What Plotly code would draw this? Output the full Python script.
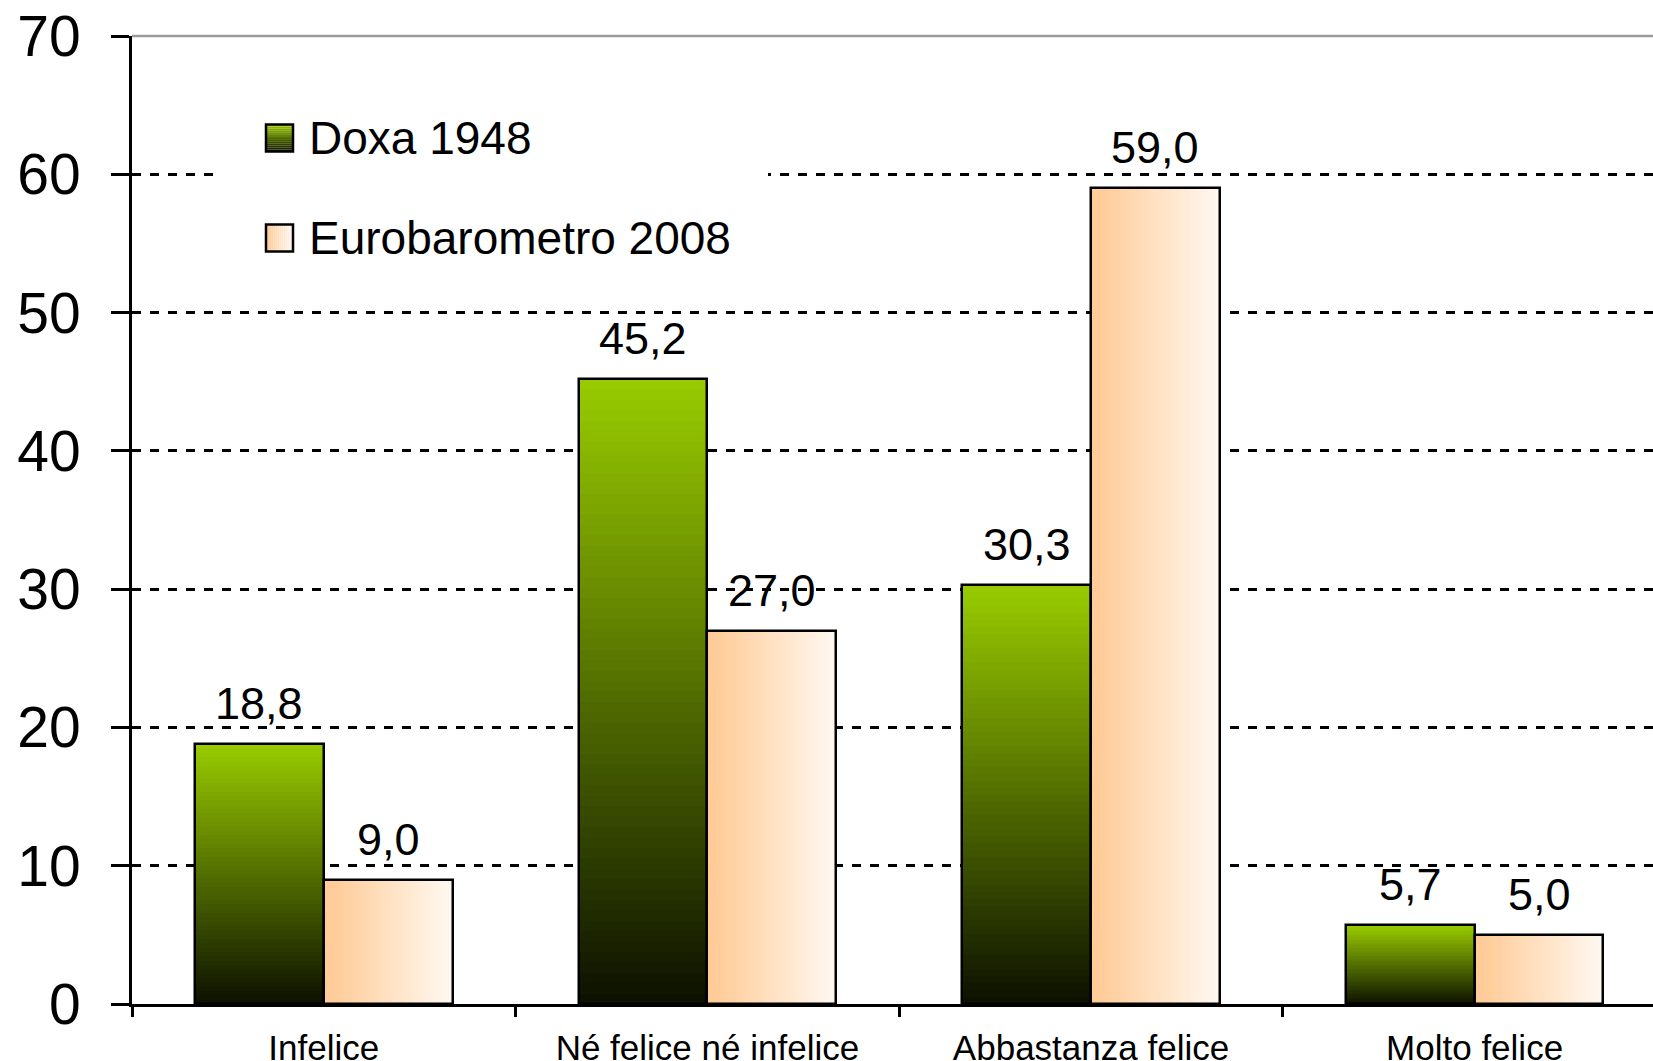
import plotly.graph_objects as go

# ---------------- data ----------------
categories = ["Infelice", "Né felice né infelice", "Abbastanza felice", "Molto felice"]
doxa_1948 = [18.8, 45.2, 30.3, 5.7]
euro_2008 = [9.0, 27.0, 59.0, 5.0]
series_names = ["Doxa 1948", "Eurobarometro 2008"]
y_ticks = [0, 10, 20, 30, 40, 50, 60, 70]

# ---------------- style ----------------
W, H = 1653, 1061
ML, MR, MT, MB = 132, 0, 36, 57
BAR_W = 0.336
GREEN_TOP = (153, 204, 0)
GREEN_BOT = (12, 16, 0)
PEACH_L = (255, 204, 153)
PEACH_R = (255, 249, 242)
N_V = 60   # vertical gradient steps
N_H = 36   # horizontal gradient steps
FONT = "Liberation Sans, Arial, sans-serif"
NARROW = "Liberation Sans Narrow, Arial Narrow, Liberation Sans, Arial, sans-serif"


def mix(a, b, t):
    t = max(0.0, min(1.0, t))
    return "rgb(%d,%d,%d)" % tuple(round(a[i] + (b[i] - a[i]) * t) for i in range(3))


def green_at(t):  # t=0 bottom, 1 top
    return mix(GREEN_BOT, GREEN_TOP, t)


def peach_at(t):  # t=0 left, 1 right
    return mix(PEACH_L, PEACH_R, (t - 0.08) / 0.92)


x_idx = list(range(len(categories)))
fig = go.Figure()

# green bars: vertical gradient by stacking thin segments
for k in range(N_V):
    fig.add_trace(go.Bar(
        x=x_idx, y=[v / N_V for v in doxa_1948], base=[v * k / N_V for v in doxa_1948],
        width=BAR_W, offset=-BAR_W,
        marker=dict(color=green_at((k + 0.5) / N_V), line=dict(width=0)),
        showlegend=False, hoverinfo="skip"))

# peach bars: horizontal gradient by side-by-side thin strips
for k in range(N_H):
    fig.add_trace(go.Bar(
        x=x_idx, y=euro_2008,
        width=BAR_W / N_H, offset=BAR_W * k / N_H,
        marker=dict(color=peach_at((k + 0.5) / N_H), line=dict(width=0)),
        showlegend=False, hoverinfo="skip"))

# outlines
for vals, off, name in [(doxa_1948, -BAR_W, series_names[0]), (euro_2008, 0.0, series_names[1])]:
    fig.add_trace(go.Bar(
        x=x_idx, y=vals, width=BAR_W, offset=off, name=name,
        marker=dict(color="rgba(0,0,0,0)", line=dict(color="black", width=2.5)),
        showlegend=False, hoverinfo="skip"))

# data labels
annotations = []
for vals, off in [(doxa_1948, -BAR_W), (euro_2008, 0.0)]:
    for i, v in enumerate(vals):
        annotations.append(dict(
            x=i + off + BAR_W / 2, y=v, xref="x", yref="y",
            text=("%.1f" % v).replace(".", ","), showarrow=False,
            yanchor="bottom", xanchor="center", yshift=13,
            font=dict(family=FONT, size=45, color="black")))

# ---------------- manual legend ----------------
PW = W - ML - MR
PH = H - MT - MB


def px(x):
    return (x - ML) / PW


def py(y):
    return (H - MB - y) / PH


shapes = []
# top border line of plot area
shapes.append(dict(type="line", xref="paper", yref="paper", x0=0, x1=1, y0=1, y1=1,
                   line=dict(color="#9a9a9a", width=2.5), layer="between"))
# white legend background (covers gridlines)
shapes.append(dict(type="rect", xref="paper", yref="paper",
                   x0=px(214), x1=px(768), y0=py(292), y1=py(88),
                   fillcolor="white", line=dict(width=0), layer="above"))
SQ = 27
rows = [(138, "g"), (238, "p")]
for (cy, kind), name in zip(rows, series_names):
    x0, x1 = 266, 266 + SQ
    y0, y1 = cy - SQ / 2, cy + SQ / 2
    n = 14
    for k in range(n):
        if kind == "g":
            ya = y1 - (k + 1) * SQ / n
            yb = y1 - k * SQ / n
            col = green_at((k + 0.5) / n)
            shapes.append(dict(type="rect", xref="paper", yref="paper",
                               x0=px(x0), x1=px(x1), y0=py(yb), y1=py(ya),
                               fillcolor=col, line=dict(width=0), layer="above"))
        else:
            xa = x0 + k * SQ / n
            xb = x0 + (k + 1) * SQ / n
            col = peach_at((k + 0.5) / n)
            shapes.append(dict(type="rect", xref="paper", yref="paper",
                               x0=px(xa), x1=px(xb), y0=py(y1), y1=py(y0),
                               fillcolor=col, line=dict(width=0), layer="above"))
    shapes.append(dict(type="rect", xref="paper", yref="paper",
                       x0=px(x0), x1=px(x1), y0=py(y1), y1=py(y0),
                       fillcolor="rgba(0,0,0,0)", line=dict(color="black", width=2.5),
                       layer="above"))
    annotations.append(dict(x=px(307), y=py(cy), xref="paper", yref="paper",
                            text=name, showarrow=False, xanchor="left", yanchor="middle",
                            font=dict(family=FONT, size=46, color="black")))

fig.update_layout(
    width=W, height=H,
    margin=dict(l=ML, r=MR, t=MT, b=MB, pad=0, autoexpand=False),
    paper_bgcolor="white", plot_bgcolor="white",
    barmode="overlay", bargap=0,
    showlegend=False,
    separators=",.",
    hovermode=False,
    annotations=annotations,
    shapes=shapes,
    font=dict(family=FONT, color="black"),
)

fig.update_xaxes(
    type="category", range=[-0.5, -0.5 + PW / 383.6],
    tickvals=x_idx, ticktext=categories, tickson="boundaries",
    ticks="outside", ticklen=10, tickwidth=3, tickcolor="black",
    showline=True, linecolor="black", linewidth=3,
    showgrid=False, zeroline=False, automargin=False,
    ticklabelstandoff=11,
    tickfont=dict(family=NARROW, size=35, color="black"),
)
fig.update_yaxes(
    range=[0, 70], tickvals=y_ticks, ticktext=[str(t) for t in y_ticks],
    ticks="outside", ticklen=18, tickwidth=3, tickcolor="black",
    showline=True, linecolor="black", linewidth=3,
    showgrid=True, gridcolor="black", gridwidth=2.5, griddash="9px,9px",
    zeroline=False, automargin=False,
    ticklabelstandoff=19,
    tickfont=dict(family=FONT, size=57, color="black"),
)

fig.write_html("out.html", config={"displayModeBar": False},
               post_script="document.body.style.margin='0';document.body.style.overflow='hidden';")
